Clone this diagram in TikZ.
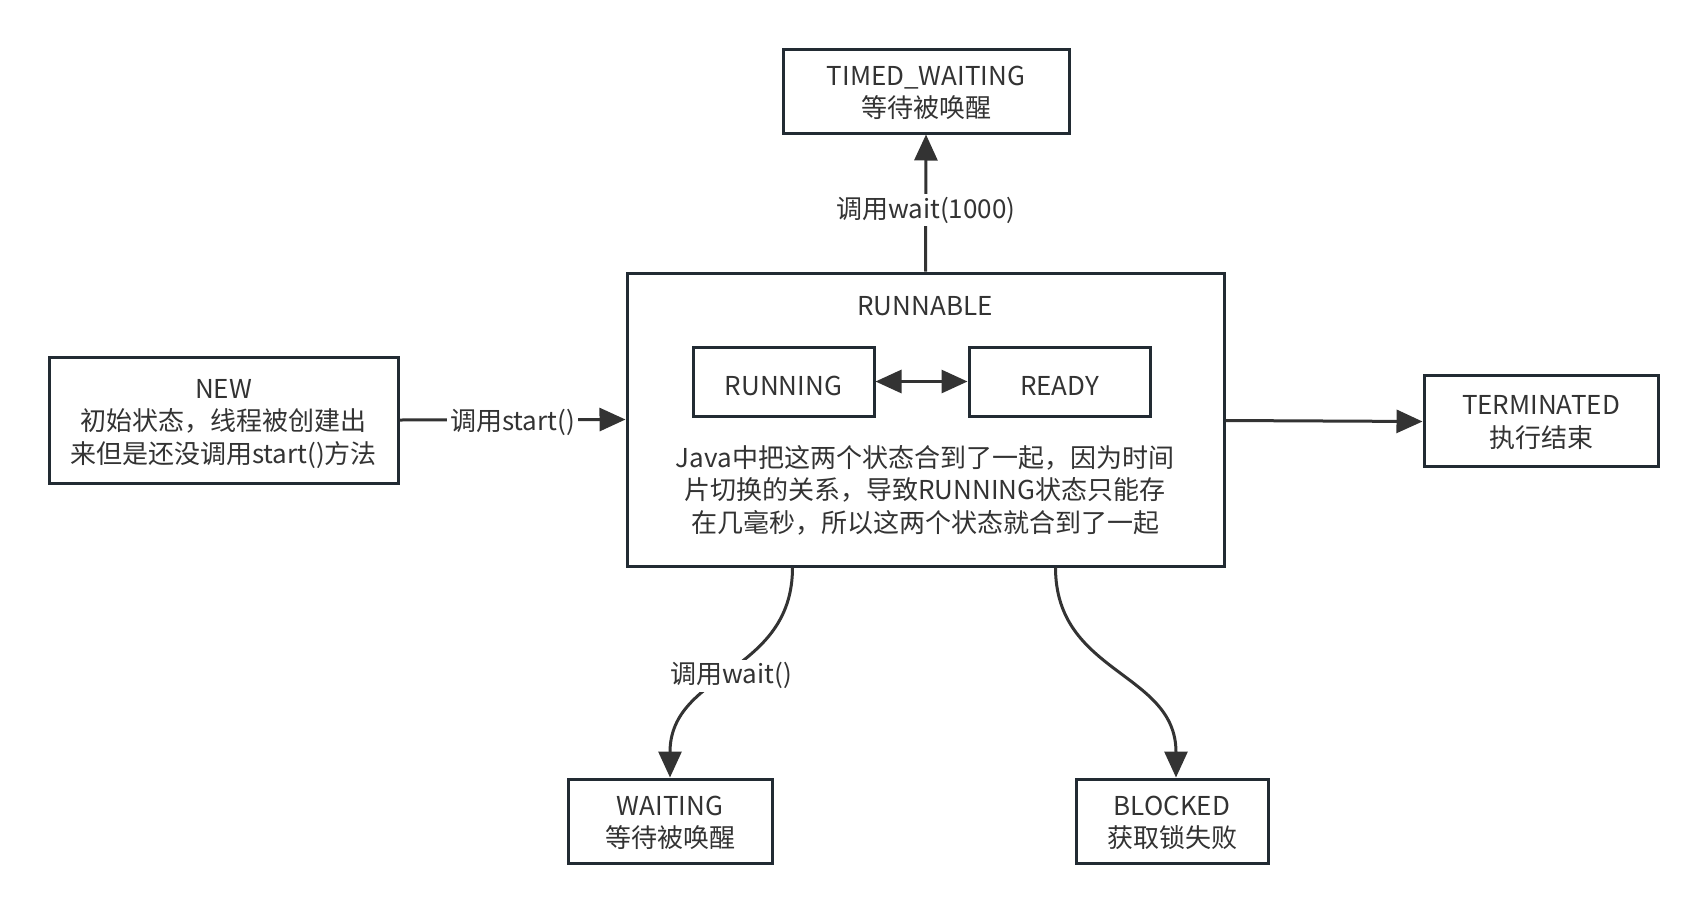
\documentclass[tikz,border=0pt]{standalone}
\usepackage{fontspec}
\setmainfont{Noto Sans CJK SC}
\usetikzlibrary{arrows.meta,positioning}
\definecolor{bordercol}{HTML}{222B33}
\definecolor{linecol}{HTML}{333333}
\definecolor{txtcol}{HTML}{333333}
\newcommand\boxtext[2][8pt]{\begin{tabular}{@{}c@{}}\noalign{\vskip #1}#2\end{tabular}}
\tikzset{
  txt/.style={font=\fontsize{26pt}{32.5pt}\selectfont, text=txtcol, align=center},
  statebox/.style={font=\fontsize{26pt}{32.5pt}\selectfont, text=txtcol, draw=bordercol, line width=3pt, fill=white, inner sep=0pt},
  arr/.style={draw=linecol, line width=3pt, -{Triangle[length=26pt,width=23pt]}},
  dblarr/.style={draw=linecol, line width=3pt, {Triangle[length=26pt,width=23pt]}-{Triangle[length=26pt,width=23pt]}},
  lbl/.style={txt, fill=white, inner sep=3pt, yshift=-3pt}
}
\begin{document}
\begin{tikzpicture}[x=1pt,y=-1pt]
\useasboundingbox[fill=white] (0,0) rectangle (1708,913);

\node[statebox, minimum width=597pt, minimum height=293pt] (runnable) at (925.5,419.5) {};
\node[txt] (runlabel) at (925,306) {RUNNABLE};
\node[statebox, minimum width=181pt, minimum height=69pt] (running) at (783.5,381.5) {\boxtext[14pt]{RUNNING}};
\node[statebox, minimum width=181pt, minimum height=69pt] (ready) at (1059.5,381.5) {\boxtext[14pt]{READY}};
\node[txt] (javatxt) at (925,490) {Java中把这两个状态合到了一起，因为时间\\片切换的关系，导致RUNNING状态只能存\\在几毫秒，所以这两个状态就合到了一起};

\node[statebox, minimum width=286pt, minimum height=84pt] (timed) at (926,91) {\boxtext{TIMED\_WAITING\\等待被唤醒}};
\node[statebox, minimum width=349pt, minimum height=126pt] (new) at (223.5,420) {\boxtext{NEW\\初始状态，线程被创建出\\来但是还没调用start()方法}};
\node[statebox, minimum width=234pt, minimum height=91pt] (term) at (1541,420.5) {\boxtext{TERMINATED\\执行结束}};
\node[statebox, minimum width=204pt, minimum height=84pt] (waiting) at (670,821) {\boxtext{WAITING\\等待被唤醒}};
\node[statebox, minimum width=192pt, minimum height=84pt] (blocked) at (1172,821) {\boxtext{BLOCKED\\获取锁失败}};

\draw[arr] (runnable.north) -- (timed.south) node[lbl, pos=0.47] {调用wait(1000)};
\draw[arr] (new.east) -- (runnable.west) node[lbl, midway] {调用start()};
\draw[arr] ([yshift=-1pt]runnable.east) -- ([yshift=-1pt]term.west);
\draw[dblarr] (running.east) -- (ready.west);
\draw[arr] ([xshift=167pt]runnable.south west) .. controls +(0,107) and +(0,-106) .. (waiting.north) node[lbl, pos=0.5] {调用wait()};
\draw[arr] ([xshift=430pt]runnable.south west) .. controls +(0,107) and +(0,-106) .. ([xshift=4pt]blocked.north);
\end{tikzpicture}
\end{document}
